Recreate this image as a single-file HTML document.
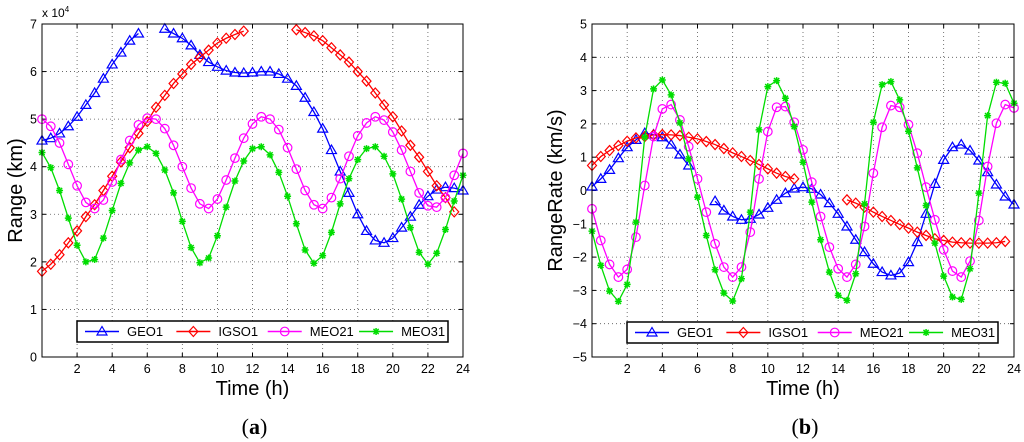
<!DOCTYPE html>
<html><head><meta charset="utf-8"><style>
body{margin:0;background:#fff;width:1024px;height:442px;overflow:hidden}
svg{display:block;font-family:"Liberation Sans",sans-serif}
</style></head><body>
<svg id="c" width="1024" height="442"></svg>
<script>
const times=[];for(let i=0;i<=48;i++)times.push(i/2);
const N=null;
const rangeGEO1=[4.55,4.6,4.7,4.85,5.05,5.3,5.55,5.85,6.15,6.4,6.65,6.8,N,N,6.9,6.8,6.7,6.55,6.35,6.2,6.1,6.02,5.98,5.97,5.98,6.0,6.0,5.95,5.85,5.7,5.45,5.15,4.8,4.35,3.9,3.45,3.0,2.65,2.45,2.4,2.5,2.72,2.95,3.2,3.38,3.52,3.57,3.55,3.5];
const rangeIGSO1=[1.8,1.95,2.15,2.4,2.65,2.95,3.2,3.5,3.8,4.1,4.4,4.7,4.95,5.25,5.5,5.75,5.95,6.15,6.3,6.45,6.6,6.7,6.78,6.85,N,N,N,N,N,6.88,6.82,6.75,6.65,6.5,6.35,6.2,6.0,5.8,5.55,5.3,5.05,4.75,4.45,4.2,3.9,3.6,3.35,3.05,N];
const rangeMEO21=[5.0,4.85,4.5,4.05,3.6,3.25,3.12,3.3,3.68,4.15,4.55,4.88,5.02,5.0,4.8,4.45,4.0,3.55,3.22,3.12,3.32,3.72,4.18,4.6,4.9,5.05,5.0,4.78,4.4,3.95,3.5,3.2,3.12,3.35,3.75,4.22,4.65,4.92,5.05,4.98,4.73,4.35,3.9,3.45,3.18,3.15,3.35,3.82,4.28];
const rangeMEO31=[4.3,3.98,3.5,2.92,2.35,2.0,2.05,2.5,3.08,3.65,4.08,4.35,4.42,4.28,3.93,3.45,2.85,2.3,1.98,2.08,2.55,3.15,3.7,4.12,4.38,4.42,4.25,3.88,3.38,2.8,2.25,1.97,2.13,2.62,3.22,3.75,4.15,4.38,4.42,4.22,3.85,3.32,2.72,2.2,1.95,2.18,2.68,3.28,3.82];
const rateGEO1=[0.12,0.35,0.62,0.97,1.3,1.52,1.72,1.68,1.6,1.38,1.08,0.75,N,N,-0.32,-0.6,-0.78,-0.88,-0.85,-0.72,-0.52,-0.28,-0.08,0.06,0.1,0.05,-0.12,-0.38,-0.7,-1.08,-1.48,-1.85,-2.2,-2.45,-2.55,-2.48,-2.15,-1.55,-0.7,0.2,0.92,1.3,1.38,1.2,0.9,0.55,0.18,-0.18,-0.42];
const rateIGSO1=[0.75,1.02,1.2,1.35,1.48,1.58,1.62,1.67,1.68,1.67,1.65,1.6,1.55,1.47,1.38,1.26,1.13,1.02,0.9,0.78,0.65,0.52,0.42,0.35,N,N,N,N,N,-0.28,-0.38,-0.5,-0.65,-0.78,-0.9,-1.02,-1.13,-1.25,-1.35,-1.45,-1.5,-1.55,-1.57,-1.58,-1.58,-1.58,-1.57,-1.53,N];
const rateMEO21=[-0.55,-1.5,-2.22,-2.6,-2.37,-1.4,0.15,1.62,2.45,2.58,2.12,1.32,0.35,-0.65,-1.6,-2.3,-2.6,-2.3,-1.25,0.35,1.77,2.5,2.52,2.05,1.22,0.25,-0.78,-1.7,-2.35,-2.6,-2.22,-1.08,0.52,1.9,2.55,2.5,1.98,1.12,0.1,-0.88,-1.78,-2.42,-2.6,-2.12,-0.9,0.72,2.02,2.58,2.48];
const rateMEO31=[-1.22,-2.25,-3.02,-3.33,-2.82,-0.95,1.6,3.05,3.32,2.87,2.03,0.95,-0.2,-1.35,-2.38,-3.08,-3.32,-2.65,-0.65,1.82,3.12,3.3,2.77,1.92,0.85,-0.35,-1.48,-2.45,-3.15,-3.3,-2.5,-0.4,2.05,3.18,3.27,2.72,1.78,0.68,-0.45,-1.58,-2.57,-3.2,-3.27,-2.35,-0.08,2.25,3.25,3.22,2.62];
const xTicks=[2,4,6,8,10,12,14,16,18,20,22,24];
const yTicksA=[0,1,2,3,4,5,6,7];
const yTicksB=[-5,-4,-3,-2,-1,0,1,2,3,4,5];
const seriesNames=["GEO1","IGSO1","MEO21","MEO31"];
const colors=["#0000ff","#ff0000","#ff00ff","#00dd00"];
const marks=["tri","dia","circ","star"];

const svg=document.getElementById('c');const NS="http://www.w3.org/2000/svg";
function mk(tag,attrs,parent){const e=document.createElementNS(NS,tag);for(const k in attrs)e.setAttribute(k,attrs[k]);(parent||svg).appendChild(e);return e;}
function marker(g,type,x,y,col){
  let e;
  if(type=="tri")e=mk('polygon',{points:`${x},${y-5} ${x-5},${y+3.5} ${x+5},${y+3.5}`,fill:'none',stroke:col,'stroke-width':1.2},g);
  else if(type=="dia")e=mk('polygon',{points:`${x},${y-5} ${x+4.5},${y} ${x},${y+5} ${x-4.5},${y}`,fill:'none',stroke:col,'stroke-width':1.2},g);
  else if(type=="circ")e=mk('circle',{cx:x,cy:y,r:4.3,fill:'none',stroke:col,'stroke-width':1.2},g);
  else{e=mk('path',{d:`M${x-3.5},${y}H${x+3.5}M${x},${y-3.5}V${y+3.5}M${x-2.6},${y-2.6}L${x+2.6},${y+2.6}M${x-2.6},${y+2.6}L${x+2.6},${y-2.6}`,stroke:col,'stroke-width':1.5},g);}
  
  
}
function chart(o){
  const {x0,x1,y0,y1,ymin,ymax,yticks,series,id}=o;
  const X=t=>x0+(t-0)/24*(x1-x0);
  const Y=v=>y1-(v-ymin)/(ymax-ymin)*(y1-y0);
  const g=mk('g',{});
  
  mk('rect',{x:x0,y:y0,width:x1-x0,height:y1-y0,fill:'#fff'},g);
  xTicks.forEach(t=>{
    const l=mk('line',{x1:X(t),x2:X(t),y1:y0,y2:y1,stroke:'#555','stroke-width':0.8,'stroke-dasharray':'1,3'},g);
    
    mk('line',{x1:X(t),x2:X(t),y1:y1,y2:y1-4,stroke:'#000'},g);mk('line',{x1:X(t),x2:X(t),y1:y0,y2:y0+4,stroke:'#000'},g);
    const tx=mk('text',{x:X(t),y:y1+16,'font-size':12.5,'text-anchor':'middle',fill:'#000'},g);tx.textContent=t;
    
  });
  yticks.forEach(v=>{
    const l=mk('line',{x1:x0,x2:x1,y1:Y(v),y2:Y(v),stroke:'#555','stroke-width':0.8,'stroke-dasharray':'1,3'},g);
    
    mk('line',{x1:x0,x2:x0+4,y1:Y(v),y2:Y(v),stroke:'#000'},g);mk('line',{x1:x1,x2:x1-4,y1:Y(v),y2:Y(v),stroke:'#000'},g);
    const tx=mk('text',{x:x0-5,y:Y(v)+4.5,'font-size':12.5,'text-anchor':'end',fill:'#000'},g);tx.textContent=v<0?'\u2212'+(-v):v;
    
  });
  series.forEach((s,i)=>{
    const sg=mk('g',{},g);
    let d='',pen=false;
    s.forEach((v,j)=>{if(v===null){pen=false;return;}d+=(pen?'L':'M')+X(times[j])+','+Y(v);pen=true;});
    mk('path',{d,fill:'none',stroke:colors[i],'stroke-width':1.3},sg);
    s.forEach((v,j)=>{if(v!==null)marker(sg,marks[i],X(times[j]),Y(v),colors[i]);});
  });
  const fr=mk('rect',{x:x0,y:y0,width:x1-x0,height:y1-y0,fill:'none',stroke:'#000','stroke-width':1},g);
  
  // legend
  const L=o.leg;const lg=mk('g',{},g);
  mk('rect',{x:L.x,y:L.y,width:L.w,height:L.h,fill:'#fff',stroke:'#000','stroke-width':1.5},lg);
  const step=L.w/4;
  seriesNames.forEach((n,i)=>{
    const eg=mk('g',{},lg);
    const bx=L.x+8+i*step*0.985,cy=L.y+L.h/2;
    mk('line',{x1:bx,x2:bx+34,y1:cy,y2:cy,stroke:colors[i],'stroke-width':1.4},eg);
    marker(eg,marks[i],bx+17,cy,colors[i]);
    const t=mk('text',{x:bx+42,y:cy+4.5,'font-size':13,fill:'#000'},eg);t.textContent=n;
  });
  const xt=mk('text',{x:(x0+x1)/2,y:y1+38,'font-size':20,'text-anchor':'middle'},g);xt.textContent='Time (h)';
  
  const yt=mk('text',{x:o.ylx,y:(y0+y1)/2,'font-size':20,'text-anchor':'middle',transform:`rotate(-90 ${o.ylx} ${(y0+y1)/2})`},g);yt.textContent=o.ylabel;
  
  const cap=mk('text',{x:(x0+x1)/2+2,y:434,'font-size':22,'text-anchor':'middle','font-family':'Liberation Serif,serif'},g);
  cap.innerHTML=o.cap;
}
chart({id:'range',x0:42,x1:463,y0:24,y1:357,ymin:0,ymax:7,yticks:yTicksA,series:[rangeGEO1,rangeIGSO1,rangeMEO21,rangeMEO31],
  leg:{x:77,y:321,w:371,h:21},ylabel:'Range (km)',ylx:22,cap:'(<tspan font-weight="bold">a</tspan>)'});
chart({id:'rangerate',x0:592,x1:1014,y0:24,y1:357,ymin:-5,ymax:5,yticks:yTicksB,series:[rateGEO1,rateIGSO1,rateMEO21,rateMEO31],
  leg:{x:627,y:322,w:371,h:21},ylabel:'RangeRate (km/s)',ylx:562,cap:'(<tspan font-weight="bold">b</tspan>)'});
const ex=mk('text',{x:42,y:17,'font-size':12});ex.innerHTML='x 10<tspan dy="-5" font-size="8">4</tspan>';

</script>
</body></html>
